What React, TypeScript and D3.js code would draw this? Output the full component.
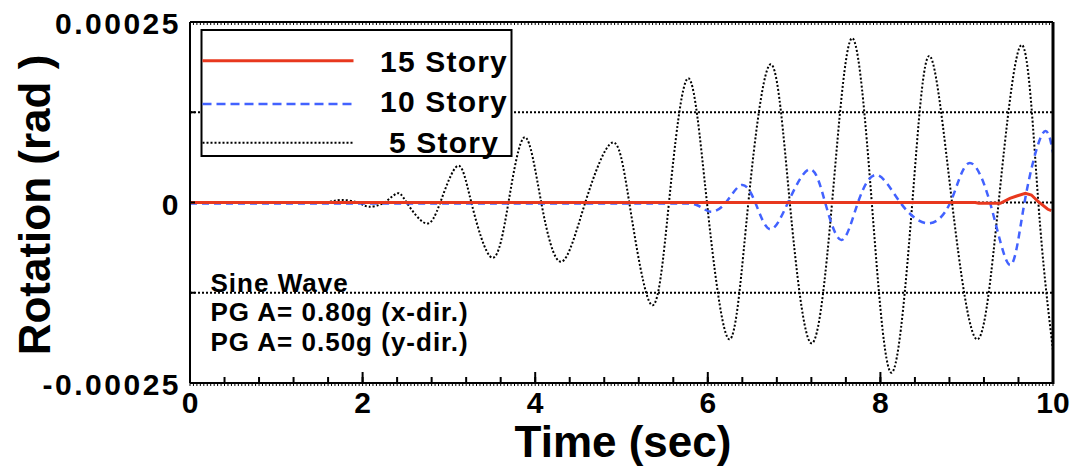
import React from "react";
import * as d3 from "d3";

// ---- data ----
const story5Time = [0, 0.5, 1.0, 1.4, 1.6, 1.75, 1.94, 2.07, 2.25, 2.4, 2.51, 2.73, 2.9, 3.1, 3.26, 3.5, 3.69, 3.88, 4.07, 4.3, 4.58, 4.89, 5.09, 5.35, 5.55, 5.77, 5.99, 6.25, 6.47, 6.73, 6.95, 7.2, 7.44, 7.67, 7.9, 8.13, 8.37, 8.57, 8.83, 9.12, 9.37, 9.64, 9.83, 10.0];
const story5Rot = [0, 0, 0, 0, 0.0000007, 0.0000035, 0, -0.0000058, 0, 0.0000127, 0, -0.0000288, 0, 0.0000506, 0, -0.0000764, 0, 0.0000903, 0, -0.000082, 0, 0.0000828, 0, -0.000142, 0, 0.000172, 0, -0.0001895, 0, 0.0001914, 0, -0.000195, 0, 0.0002274, 0, -0.0002357, 0, 0.0002029, 0, -0.0001895, 0, 0.0002181, 0, -0.000205];

const story10Time = [0, 1.0, 2.0, 3.0, 4.0, 5.0, 5.6, 5.87, 6.03, 6.21, 6.39, 6.55, 6.72, 6.93, 7.18, 7.36, 7.55, 7.74, 7.96, 8.23, 8.54, 8.81, 9.02, 9.27, 9.5, 9.67, 9.88, 10.0];
const story10Rot = [-0.0000014, -0.0000014, -0.0000014, -0.0000014, -0.0000014, -0.0000014, -0.0000014, -0.0000035, -0.0000127, 0, 0.0000242, 0, -0.0000371, 0, 0.000046, 0, -0.0000519, 0, 0.0000381, 0, -0.0000288, 0, 0.0000543, 0, -0.0000866, 0, 0.0000956, 0.0000693];

const story15Time = [0, 9.1, 9.14, 9.39, 9.5, 9.58, 9.68, 9.75, 9.83, 9.94, 9.98];
const story15Rot = [0, 0, -0.0000011, -0.0000011, 0.0000058, 0.000009, 0.0000127, 0.0000104, 0.0000011, -0.0000094, -0.0000112];

const xTickValues = [0, 2, 4, 6, 8, 10];
const xTickLabels = ["0", "2", "4", "6", "8", "10"];
const yTickValues = [0.00025, 0, -0.00025];
const yTickLabels = ["0.00025", "0", "-0.00025"];
const gridValues = [0.000125, 0, -0.000125];
const legendLabels = ["15 Story", "10 Story", "5 Story"];
const noteLines = ["Sine Wave", "PG A= 0.80g (x-dir.)", "PG A= 0.50g (y-dir.)"];

const RED = "#e8381e";
const BLUE = "#4262ff";
const FONT = "'Liberation Sans', Arial, Helvetica, sans-serif";

export default function App() {
  const W = 1078;
  const H = 472;
  const L = 190, R = 1053, T = 22, B = 383;
  const x = d3.scaleLinear().domain([0, 10]).range([L, R]);
  const y = d3.scaleLinear().domain([-0.00025, 0.00025]).range([B, T]);

  const mk = (ts: number[], vs: number[], curve: any) =>
    d3
      .line<number>()
      .x((i) => x(ts[i]))
      .y((i) => y(vs[i]))
      .curve(curve)(d3.range(ts.length)) || "";

  const p5 = mk(story5Time, story5Rot, d3.curveNatural);
  const p10 = mk(story10Time, story10Rot, d3.curveNatural);
  const p15 = mk(story15Time, story15Rot, d3.curveLinear);

  const minor = d3.range(0, 10.0001, 0.4);
  const teeth = d3.range(0, 10.0001, 0.04);

  const legend = { x0: 201.5, y0: 30, x1: 511.5, y1: 156 };
  const legendRows = [60.7, 104, 142.7];
  const legendText = [71.7, 111.7, 153.3];
  const styles = [
    { stroke: RED, w: 3, dash: undefined as string | undefined },
    { stroke: BLUE, w: 2.5, dash: "9,5" },
    { stroke: "#000", w: 2, dash: "2,2" },
  ];

  return (
    <svg
      width={W}
      height={H}
      style={{ position: "absolute", left: 0, top: 0, background: "#fff", display: "block" }}
      fontFamily={FONT}
    >
      <defs>
        <clipPath id="plotclip">
          <rect x={L} y={T} width={R - L} height={B - T} />
        </clipPath>
      </defs>

      {/* grid lines */}
      {gridValues.map((g, i) => (
        <line key={"g" + i} x1={L} x2={R} y1={y(g)} y2={y(g)} stroke="#000" strokeWidth={2} strokeDasharray="2,2" />
      ))}

      {/* series */}
      <g clipPath="url(#plotclip)">
        <path d={p5} fill="none" stroke="#000" strokeWidth={2} strokeDasharray="2,2" />
        <path d={p10} fill="none" stroke={BLUE} strokeWidth={2.5} strokeDasharray="7,5" />
        <path d={p15} fill="none" stroke={RED} strokeWidth={3} />
      </g>

      {/* frame */}
      <line x1={L} x2={L} y1={T} y2={B} stroke="#000" strokeWidth={2} />
      <line x1={R} x2={R} y1={T} y2={B + 1} stroke="#000" strokeWidth={3} />
      <line x1={L} x2={R} y1={T} y2={T} stroke="#000" strokeWidth={2} />
      <line x1={L} x2={R} y1={B} y2={B} stroke="#000" strokeWidth={2} />
      {teeth.map((t, i) => (
        <g key={"t" + i}>
          <line x1={x(t)} x2={x(t)} y1={T} y2={T + 3} stroke="#000" strokeWidth={1} />
          <line x1={x(t)} x2={x(t)} y1={B} y2={B + 3} stroke="#000" strokeWidth={1} />
        </g>
      ))}
      {minor.map((t, i) => (
        <line key={"m" + i} x1={x(t)} x2={x(t)} y1={B} y2={B - 6} stroke="#000" strokeWidth={2} />
      ))}
      {xTickValues.map((t, i) => (
        <line key={"M" + i} x1={x(t)} x2={x(t)} y1={B} y2={B - 11} stroke="#000" strokeWidth={2} />
      ))}
      {gridValues.map((g, i) => (
        <line key={"yt" + i} x1={L} x2={L + 5} y1={y(g)} y2={y(g)} stroke="#000" strokeWidth={2} />
      ))}

      {/* tick labels */}
      {yTickValues.map((v, i) => (
        <text key={"yl" + i} x={181} y={y(v) + 1.5} textAnchor="end" dominantBaseline="central" fontSize={30} fontWeight="bold" letterSpacing={2.5}>
          {yTickLabels[i]}
        </text>
      ))}
      {xTickValues.map((t, i) => (
        <text key={"xl" + i} x={x(t)} y={413} textAnchor="middle" fontSize={30} fontWeight="bold">
          {xTickLabels[i]}
        </text>
      ))}

      {/* axis titles */}
      <text x={623} y={457} textAnchor="middle" fontSize={44} fontWeight="bold">
        Time (sec)
      </text>
      <text transform="translate(50,205) rotate(-90)" textAnchor="middle" fontSize={44} fontWeight="bold">
        Rotation (rad )
      </text>

      {/* legend */}
      <rect x={legend.x0} y={legend.y0} width={legend.x1 - legend.x0} height={legend.y1 - legend.y0} fill="#fff" stroke="#000" strokeWidth={2} />
      {legendLabels.map((lab, i) => (
        <g key={"lg" + i}>
          <line x1={legend.x0 + 1} x2={legend.x0 + 152} y1={legendRows[i]} y2={legendRows[i]} stroke={styles[i].stroke} strokeWidth={styles[i].w} strokeDasharray={styles[i].dash} />
          <text x={444} y={legendText[i]} textAnchor="middle" fontSize={30} fontWeight="bold" letterSpacing={1.2}>
            {lab}
          </text>
        </g>
      ))}

      {/* annotation */}
      {noteLines.map((s, i) => (
        <text key={"n" + i} x={210.5} y={291.7 + i * 29.7} fontSize={26} fontWeight="bold" letterSpacing={1}>
          {s}
        </text>
      ))}
    </svg>
  );
}
